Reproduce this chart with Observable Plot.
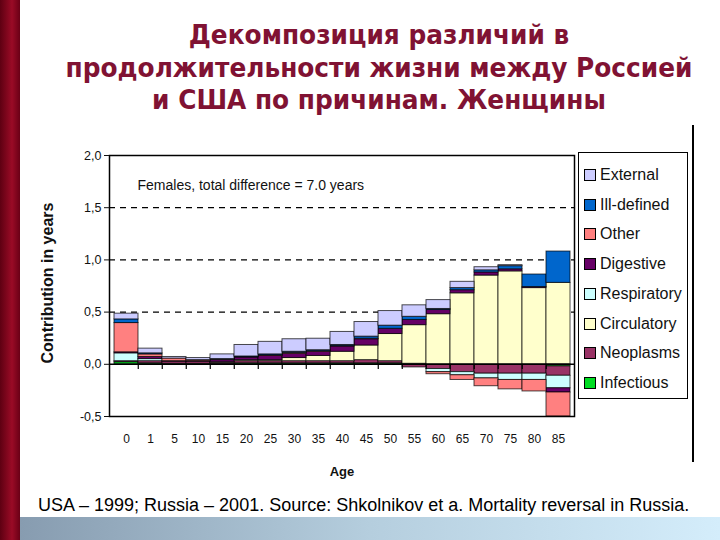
<!DOCTYPE html>
<html><head><meta charset="utf-8">
<script src="https://cdn.jsdelivr.net/npm/d3@7"></script>
<script src="https://cdn.jsdelivr.net/npm/@observablehq/plot@0.6"></script>
<style>
body{margin:0;width:720px;height:540px;overflow:hidden;background:#fff;position:relative;font-family:"Liberation Sans",Arial,sans-serif;}
#redbar{position:absolute;left:0;top:0;width:20px;height:540px;background:linear-gradient(90deg,#5e0012,#9a0b26 60%,#6a0016);}
#band{position:absolute;left:20px;top:517px;width:700px;height:23px;background:linear-gradient(90deg,#879cb0,#b5cede 50%,#d4edfb);}
#title{position:absolute;left:38px;width:682px;top:19px;text-align:center;font-family:"DejaVu Sans",sans-serif;font-weight:bold;font-size:27px;line-height:32.5px;color:#801233;margin:0;transform:scaleX(0.92);transform-origin:341px 0;}
#chart{position:absolute;left:0;top:128px;}
#vline{position:absolute;left:692px;top:125px;width:1.5px;height:337px;background:#000;}
#legend{position:absolute;left:578px;top:152px;width:110px;height:247px;border:1px solid #000;box-sizing:border-box;}
.item{position:absolute;left:5px;height:16px;display:flex;align-items:center;font-size:16px;color:#111;white-space:nowrap;}
.sw{width:10px;height:10px;border:1px solid #000;margin-right:4px;flex:none;}
#caption{position:absolute;left:38px;top:495px;font-size:18px;color:#000;white-space:nowrap;}
</style></head>
<body>
<div id="redbar"></div>
<div id="band"></div>
<h1 id="title">Декомпозиция различий в<br>продолжительности жизни между Россией<br>и США по причинам. Женщины</h1>
<div id="chart"></div>
<div id="vline"></div>
<div id="legend"></div>
<div id="caption">USA – 1999; Russia – 2001. Source: Shkolnikov et a. Mortality reversal in Russia.</div>
<script>
const ages = ["0","1","5","10","15","20","25","30","35","40","45","50","55","60","65","70","75","80","85"];
const causes = ["Infectious","Neoplasms","Circulatory","Respiratory","Digestive","Other","Ill-defined","External"];
const colors = ["#00dd22","#993366","#ffffcc","#ccffff","#660066","#ff8080","#0066cc","#ccccff"];
const legendOrder = ["External","Ill-defined","Other","Digestive","Respiratory","Circulatory","Neoplasms","Infectious"];
const yTicks = [-0.5, 0, 0.5, 1, 1.5, 2];
const yLabel = "Contribution in years";
const xLabel = "Age";
const note = "Females, total difference = 7.0 years";

const infectious  = [0.02, 0.01, 0.005, 0.005, 0.005, 0.01, 0.01, 0.01, 0.01, 0.01, 0.01, 0.01, 0.005, 0, -0.005, -0.005, -0.005, -0.005, -0.02];
const neoplasms   = [0.01, 0.02, 0.02, 0.02, 0.01, 0.02, 0.02, 0.02, 0.02, 0.02, 0.03, 0.02, -0.03, -0.045, -0.07, -0.085, -0.085, -0.085, -0.09];
const circulatory = [0, 0, 0, 0, 0.005, 0.01, 0.01, 0.03, 0.05, 0.09, 0.14, 0.26, 0.37, 0.48, 0.68, 0.85, 0.89, 0.73, 0.78];
const respiratory = [0.075, 0.02, 0, 0, 0, 0, 0, 0, 0, 0, 0, 0, 0, -0.03, -0.03, -0.045, -0.06, -0.06, -0.12];
const digestive   = [0.01, 0.02, 0.005, 0.005, 0.02, 0.025, 0.04, 0.04, 0.04, 0.05, 0.06, 0.05, 0.05, 0.04, 0.03, 0.03, 0.02, 0.01, -0.04];
const other       = [0.28, 0.025, 0.025, 0.01, 0.005, 0.005, 0.005, 0.01, 0.005, 0.005, 0.005, 0, 0, -0.02, -0.045, -0.075, -0.09, -0.11, -0.23];
const illDefined  = [0.035, 0.01, 0, 0, 0.005, 0.005, 0.01, 0.01, 0.01, 0.01, 0.02, 0.03, 0.03, 0.01, 0.02, 0.02, 0.03, 0.12, 0.30];
const external    = [0.055, 0.045, 0.015, 0.02, 0.045, 0.11, 0.12, 0.12, 0.11, 0.125, 0.14, 0.14, 0.11, 0.085, 0.06, 0.03, 0.01, 0, 0];

const seriesList = [infectious, neoplasms, circulatory, respiratory, digestive, other, illDefined, external];
const data = causes.flatMap((c, k) => seriesList[k].map((v, i) => ({age: ages[i], cause: c, value: v}))).filter(d => d.value !== 0);

const W = 720, H = 360, mL = 109, mR = 146, mT = 27, mB = 72;
const bw = (W - mL - mR) / ages.length;

const chart = Plot.plot({
  width: W, height: H, marginLeft: mL, marginRight: mR, marginTop: mT, marginBottom: mB,
  style: {fontFamily: "Liberation Sans, Arial, sans-serif", fontSize: "12px", color: "#111", background: "transparent"},
  x: {type: "band", domain: ages, padding: 0, axis: null},
  y: {domain: [-0.5, 2], axis: null},
  color: {domain: causes, range: colors},
  marks: [
    Plot.ruleY([0.5, 1, 1.5], {stroke: "#000", strokeDasharray: "6,5", strokeWidth: 1.2}),
    Plot.barY(data, {x: "age", y: "value", fill: "cause", stroke: "#000", strokeWidth: 1, strokeOpacity: 0.7}),
    Plot.ruleY([0], {stroke: "#000", strokeWidth: 1.5}),
    Plot.ruleX(ages.slice(1), {x: d => d, y1: 0, y2: -0.05, dx: -bw / 2, stroke: "#000", strokeWidth: 1.2}),
    Plot.frame({stroke: "#000", strokeWidth: 1.5}),
    Plot.axisY({ticks: yTicks, tickFormat: d => d.toFixed(1).replace(".", ","), tickSize: 5, tickPadding: 3, label: null, fontSize: 12.5}),
    Plot.axisX({tickSize: 0, tickPadding: 18, label: null, fontSize: 12}),
    Plot.text([yLabel], {frameAnchor: "left", dx: -62, dy: -3, rotate: -90, textAnchor: "middle", fontWeight: "bold", fontSize: 16}),
    Plot.text([xLabel], {frameAnchor: "bottom", dy: 59, fontWeight: "bold", fontSize: 13}),
    Plot.text([note], {frameAnchor: "top-left", dx: 28, dy: 25, textAnchor: "start", fontSize: 14})
  ]
});
document.getElementById("chart").appendChild(chart);

const legend = document.getElementById("legend");
legendOrder.forEach((c, i) => {
  const it = document.createElement("div");
  it.className = "item";
  it.style.top = (14 + i * 29.7) + "px";
  const sw = document.createElement("span");
  sw.className = "sw";
  sw.style.background = colors[causes.indexOf(c)];
  it.appendChild(sw);
  it.appendChild(document.createTextNode(c));
  legend.appendChild(it);
});
</script>
</body></html>
